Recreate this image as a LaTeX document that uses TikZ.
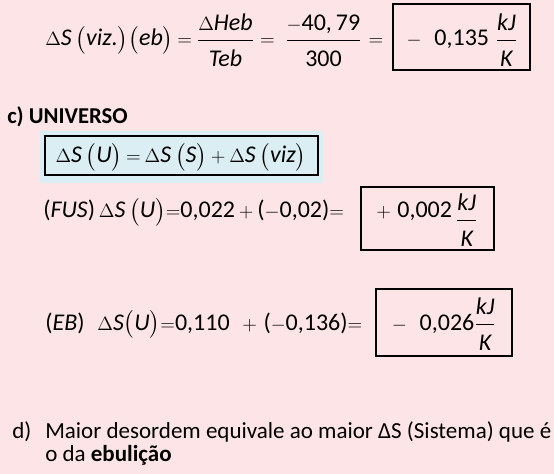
\documentclass[tikz,border=0pt]{standalone}
\usepackage{amsmath}
\usepackage{fontspec}
\setmainfont{Carlito}
\definecolor{pinkbg}{RGB}{253,229,231}
\definecolor{bluebg}{RGB}{218,238,243}
\newcommand\tn[1]{\textup{#1}}
\newcommand\vi[1]{\textit{#1}}
\newcommand\sy[1]{\tn{\fontsize{14}{16}\selectfont$#1$}}
\newcommand\lo{\rule{0pt}{17pt}}
\tikzset{
  eqn/.style={inner sep=0pt, font=\fontsize{18}{21}\selectfont},
  resbox/.style={draw=black, line width=0.9pt},
  txt/.style={inner sep=0pt, font=\fontsize{17.25}{20}\selectfont},
}
\begin{document}
\begin{tikzpicture}[x=0.75pt,y=-0.75pt]
	% Background
	\useasboundingbox (0,0) rectangle (554,474);
	\fill[pinkbg] (0,0) rectangle (554,474);
	
	% Vizinhanca na ebulicao
	\node[eqn, anchor=base west] (vizL) at (45,46) {$\sy{\Delta}\vi{S}\,\bigl(\vi{viz.}\bigr)\bigl(\vi{eb}\bigr)\,\sy{=}$};
	\node[eqn, anchor=base] (fracH) at (225.5,46) {$\dfrac{\sy{\Delta}\vi{Heb}}{\lo\vi{Teb}}$};
	\node[eqn, anchor=base] (eqA) at (267.5,46) {\sy{=}};
	\node[eqn, anchor=base] (fracT) at (323.5,46) {$\dfrac{\sy{-}\tn{40,\,79}}{\lo\tn{300}}$};
	\node[eqn, anchor=base] (eqB) at (376,46) {\sy{=}};
	\draw[resbox] (393,4) rectangle (530,70);
	\node[eqn, anchor=base] (vizres) at (462,46) {$\sy{-}\;\;\tn{0,135}\;\dfrac{\vi{kJ}}{\lo\vi{K}}$};
	
	% Universo
	\node[inner sep=0pt, anchor=base west, font=\bfseries\fontsize{17}{20}\selectfont] (univ) at (7,124) {c) UNIVERSO};
	\fill[bluebg] (40,131) rectangle (323,183);
	\draw[resbox] (45,136) rectangle (318,175);
	\node[eqn, anchor=base] (defU) at (181,163) {$\sy{\Delta}\vi{S}\,\bigl(\vi{U}\bigr)\,\sy{=}\,\sy{\Delta}\vi{S}\,\bigl(\vi{S}\bigr)\,\sy{+}\,\sy{\Delta}\vi{S}\,\bigl(\vi{viz}\bigr)$};
	
	% Fusao
	\node[eqn, anchor=base west] (fusU) at (43,218) {$\tn{(}\vi{FUS}\tn{)}\,\sy{\Delta}\vi{S}\,\bigl(\vi{U}\bigr)\sy{=}\tn{0,022}\,\sy{+}\,\tn{(}\sy{-}\tn{0,02)}\sy{=}$};
	\draw[resbox] (361,187) rectangle (494,250);
	\node[eqn, anchor=base] (fusres) at (427,218) {$\sy{+}\;\tn{0,002}\,\raisebox{-6pt}{$\dfrac{\vi{kJ}}{\lo\vi{K}}$}$};
	
	% Ebulicao
	\node[eqn, anchor=base west] (ebU) at (45,330) {$\tn{(}\vi{EB}\tn{)}\;\;\sy{\Delta}\vi{S}\bigl(\vi{U}\bigr)\sy{=}\tn{0,110}\;\;\sy{+}\;\tn{(}\sy{-}\tn{0,136)}\sy{=}$};
	\draw[resbox] (376,289) rectangle (512,356);
	\node[eqn, anchor=base] (ebres) at (444,330) {$\sy{-}\;\;\tn{0,026}\dfrac{\vi{kJ}}{\lo\vi{K}}$};
	
	% Conclusao
	\node[txt, anchor=base west] (dlab) at (12,438) {d)};
	\node[txt, anchor=base west] (dline1) at (45,438) {Maior desordem equivale ao maior ΔS (Sistema) que é};
	\node[txt, anchor=base west] (dline2) at (45,461) {o da \textbf{ebulição}};
\end{tikzpicture}
\end{document}
